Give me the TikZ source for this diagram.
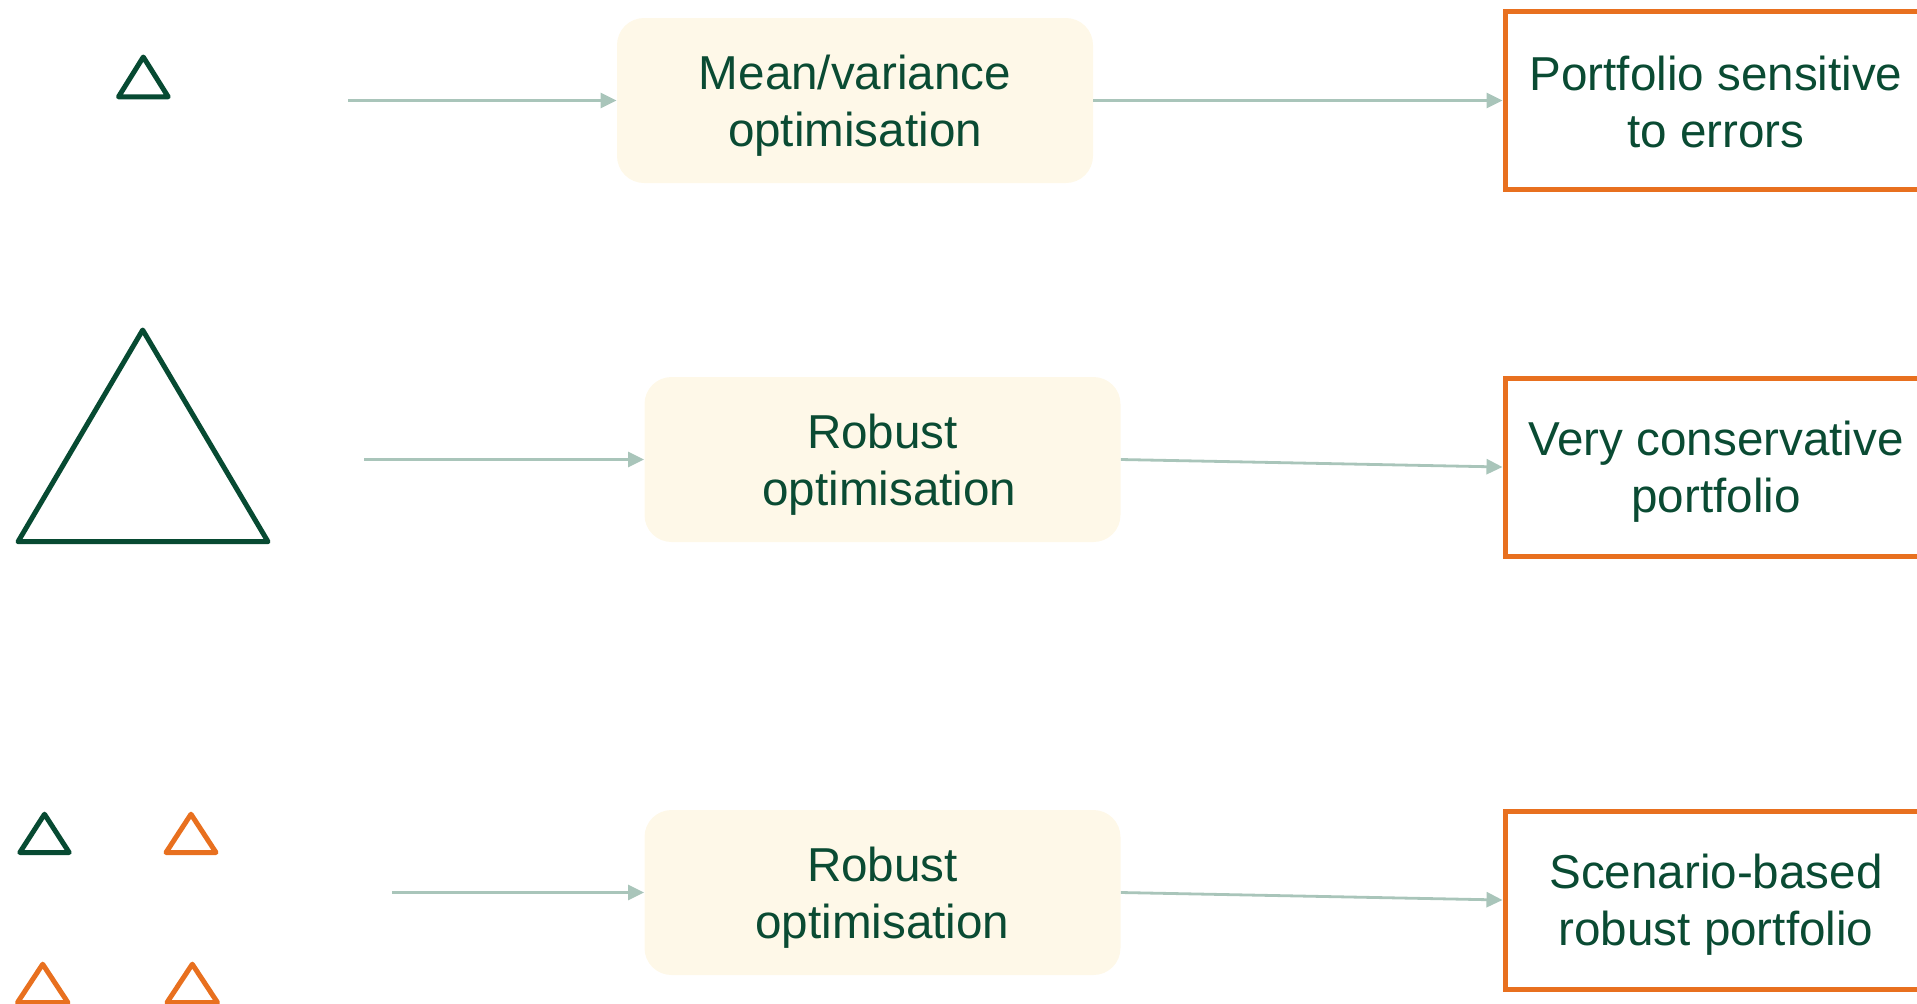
\documentclass[tikz,border=0pt]{standalone}
\usepackage{fontspec}
\setmainfont{Liberation Sans}
\usetikzlibrary{arrows.meta}
\definecolor{txtgreen}{HTML}{0A4B33}
\definecolor{trigreen}{HTML}{074A32}
\definecolor{orangec}{HTML}{E8701F}
\definecolor{boxfill}{HTML}{FEF8E8}
\definecolor{arrowc}{HTML}{A9C5BA}
\newcommand\lnstrut{\rule[-4pt]{0pt}{26pt}}
\begin{document}
\begin{tikzpicture}[x=0.5pt,y=-0.5pt,
  boxtext/.style={inner sep=0pt, align=center, text=txtgreen,
    font=\fontsize{23.8pt}{28.5pt}\selectfont},
  optbox/.style={boxtext, fill=boxfill, rounded corners=13.5pt,
    minimum width=238pt, minimum height=82.5pt},
  outbox/.style={boxtext, draw=orangec, line width=2.5pt, fill=white,
    minimum width=211pt, minimum height=89pt},
  conn/.style={draw=arrowc, line width=1.4pt, -{Triangle[length=8pt,width=7.5pt]}},
  tri/.style={line width=2.5pt, line join=round}]
\useasboundingbox (0,0) rectangle (1917,1003);
\clip (0,0) rectangle (1917,1003);

% triangles
\draw[tri, trigreen] (118.5,96.8) -- (143.3,57) -- (168.2,96.8) -- cycle;
\draw[tri, trigreen] (18,541.7) -- (142.7,330) -- (268,541.7) -- cycle;
\draw[tri, trigreen] (19.8,852.5) -- (44.5,814.2) -- (69.2,852.5) -- cycle;
\draw[tri, orangec] (166,852.5) -- (191,814.2) -- (216,852.5) -- cycle;
\draw[tri, orangec] (17.5,1002.5) -- (42.7,964.2) -- (67.9,1002.5) -- cycle;
\draw[tri, orangec] (167,1002.5) -- (192.3,964.2) -- (217.5,1002.5) -- cycle;

% middle boxes
\node[optbox] (b1) at (855,100.5) {\lnstrut Mean/variance\\\lnstrut optimisation};
\node[optbox] (b2) at (882.5,459.5) {\lnstrut Robust\\\lnstrut\hspace*{7pt}optimisation};
\node[optbox] (b3) at (882.5,892.5) {\lnstrut Robust\\\lnstrut optimisation};

% result boxes
\node[outbox] (o1) at (1716,100.5) {\lnstrut Portfolio sensitive\\\lnstrut to errors};
\node[outbox] (o2) at (1716,467) {\lnstrut Very conservative\\\lnstrut portfolio};
\node[outbox] (o3) at (1716,900) {\lnstrut Scenario-based\\\lnstrut robust portfolio};

% start points
\coordinate (s1) at (348,100.5);
\coordinate (s2) at (364,459.5);
\coordinate (s3) at (392,892.5);

% connectors
\draw[conn] (s1) -- (b1.west);
\draw[conn] (s2) -- (b2.west);
\draw[conn] (s3) -- (b3.west);
\draw[conn] (b1.east) -- (o1.west);
\draw[conn] (b2.east) -- (o2.west);
\draw[conn] (b3.east) -- (o3.west);
\end{tikzpicture}
\end{document}
